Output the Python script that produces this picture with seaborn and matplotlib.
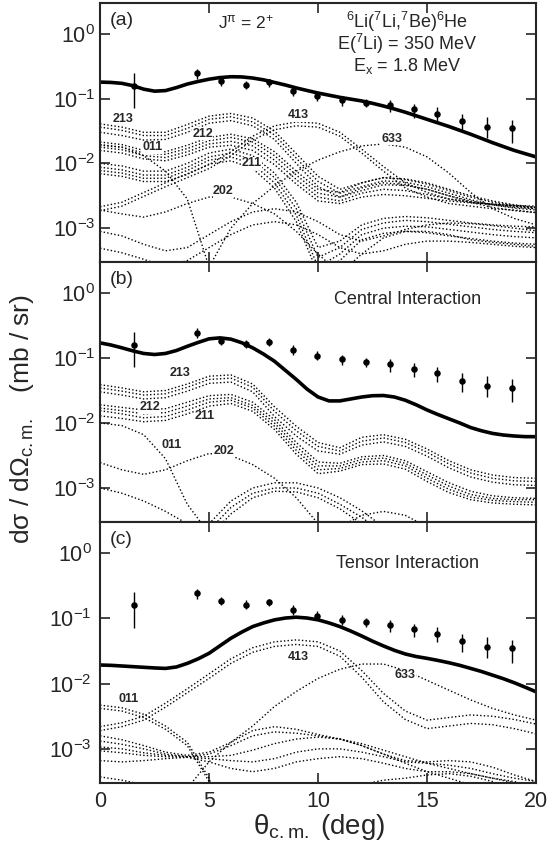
import numpy as np
import pandas as pd
import matplotlib
matplotlib.use("Agg")
import matplotlib.pyplot as plt
import seaborn as sns

# ---------------- data ----------------
DEG = list(range(21))                       # grid for partial components (deg)
DEG_FINE = [i * 0.5 for i in range(41)]     # grid for total curves (deg)

# measured cross sections (mb/sr) with error-bar limits
DATA_X = [1.56, 4.43, 5.55, 6.68, 7.76, 8.87, 9.97, 11.08, 12.19, 13.3, 14.39, 15.47, 16.59, 17.75, 18.88]
DATA_Y = [0.158, 0.245, 0.185, 0.162, 0.178, 0.133, 0.108, 0.095, 0.087, 0.080, 0.068, 0.058, 0.045, 0.037, 0.035]
DATA_LO = [0.072, 0.201, 0.158, 0.141, 0.153, 0.111, 0.093, 0.078, 0.074, 0.062, 0.051, 0.043, 0.030, 0.025, 0.021]
DATA_HI = [0.25, 0.286, 0.209, 0.190, 0.201, 0.158, 0.130, 0.111, 0.100, 0.095, 0.083, 0.074, 0.058, 0.052, 0.047]

# total calculated curves, log10 of dsigma/dOmega (mb/sr) on DEG_FINE
TOTAL_A = [-0.745, -0.750, -0.764, -0.800, -0.854, -0.885, -0.876, -0.830, -0.775, -0.735,
           -0.700, -0.675, -0.662, -0.665, -0.682, -0.710, -0.750, -0.790, -0.835, -0.875,
           -0.914, -0.947, -0.980, -1.008, -1.036, -1.073, -1.114, -1.160, -1.210, -1.265,
           -1.320, -1.375, -1.430, -1.490, -1.550, -1.615, -1.680, -1.740, -1.800, -1.850, -1.900]
TOTAL_B = [-0.767, -0.800, -0.843, -0.890, -0.930, -0.946, -0.930, -0.885, -0.820, -0.760,
           -0.705, -0.690, -0.710, -0.765, -0.843, -0.940, -1.050, -1.190, -1.330, -1.480,
           -1.600, -1.660, -1.660, -1.630, -1.600, -1.580, -1.577, -1.600, -1.650, -1.720,
           -1.800, -1.870, -1.935, -2.000, -2.070, -2.120, -2.160, -2.185, -2.200, -2.210, -2.210]
TOTAL_C = [-1.715, -1.720, -1.730, -1.740, -1.750, -1.760, -1.767, -1.745, -1.690, -1.620,
           -1.535, -1.420, -1.305, -1.210, -1.126, -1.070, -1.023, -0.995, -0.982, -0.995,
           -1.023, -1.070, -1.126, -1.195, -1.270, -1.350, -1.423, -1.490, -1.546, -1.585,
           -1.613, -1.645, -1.680, -1.720, -1.767, -1.815, -1.870, -1.925, -1.987, -2.055, -2.126]

# partial (dotted) components, log10 of dsigma/dOmega (mb/sr) on DEG
# panel (a)
A_213_1 = [-1.39, -1.44, -1.52, -1.52, -1.40, -1.27, -1.23, -1.30, -1.50, -1.85, -2.20, -2.40, -2.30, -2.22, -2.24, -2.30, -2.40, -2.50, -2.58, -2.64, -2.68]
A_213_2 = [-1.44, -1.49, -1.57, -1.57, -1.46, -1.32, -1.28, -1.36, -1.56, -1.92, -2.28, -2.46, -2.36, -2.27, -2.29, -2.36, -2.46, -2.56, -2.64, -2.69, -2.72]
A_213_3 = [-1.52, -1.57, -1.64, -1.63, -1.52, -1.38, -1.34, -1.42, -1.63, -2.00, -2.36, -2.52, -2.42, -2.33, -2.34, -2.40, -2.50, -2.60, -2.68, -2.73, -2.76]
A_212_1 = [-1.67, -1.71, -1.80, -1.82, -1.72, -1.60, -1.55, -1.62, -1.82, -2.12, -2.40, -2.45, -2.30, -2.22, -2.25, -2.32, -2.42, -2.52, -2.60, -2.65, -2.68]
A_212_2 = [-1.71, -1.75, -1.84, -1.86, -1.77, -1.65, -1.60, -1.67, -1.88, -2.18, -2.46, -2.52, -2.38, -2.30, -2.33, -2.40, -2.50, -2.58, -2.64, -2.68, -2.70]
A_212_3 = [-1.75, -1.79, -1.88, -1.91, -1.82, -1.70, -1.66, -1.73, -1.95, -2.25, -2.52, -2.58, -2.46, -2.40, -2.42, -2.48, -2.55, -2.60, -2.63, -2.66, -2.68]
A_212_4 = [-1.80, -1.84, -1.93, -1.96, -1.87, -1.75, -1.72, -1.80, -2.02, -2.32, -2.58, -2.62, -2.52, -2.48, -2.50, -2.54, -2.58, -2.61, -2.63, -2.65, -2.66]
A_211_1 = [-2.00, -2.04, -2.12, -2.12, -2.00, -1.84, -1.78, -1.88, -2.15, -2.60, -3.30, -3.20, -2.95, -2.85, -2.82, -2.84, -2.88, -2.92, -2.95, -2.97, -2.98]
A_211_2 = [-2.06, -2.10, -2.18, -2.18, -2.06, -1.90, -1.84, -1.95, -2.22, -2.70, -3.45, -3.30, -3.02, -2.92, -2.88, -2.90, -2.94, -2.98, -3.02, -3.05, -3.07]
A_211_3 = [-2.11, -2.15, -2.23, -2.23, -2.11, -1.95, -1.90, -2.01, -2.30, -2.80, -3.60, -3.40, -3.10, -3.00, -2.97, -2.98, -3.02, -3.06, -3.10, -3.13, -3.15]
A_211_4 = [-2.16, -2.20, -2.28, -2.28, -2.17, -2.01, -1.96, -2.08, -2.38, -2.90, -3.70, -3.50, -3.18, -3.08, -3.05, -3.07, -3.12, -3.16, -3.20, -3.23, -3.25]
A_413_1 = [-2.67, -2.60, -2.45, -2.30, -2.16, -2.02, -1.82, -1.58, -1.42, -1.36, -1.38, -1.52, -1.78, -2.05, -2.30, -2.45, -2.55, -2.60, -2.63, -2.66, -2.70]
A_413_2 = [-2.73, -2.66, -2.51, -2.36, -2.22, -2.08, -1.88, -1.64, -1.48, -1.42, -1.44, -1.58, -1.84, -2.12, -2.38, -2.52, -2.62, -2.66, -2.70, -2.72, -2.76]
A_633 = [-4.5, -4.5, -4.5, -4.5, -4.2, -3.60, -3.00, -2.62, -2.35, -2.12, -1.95, -1.82, -1.73, -1.70, -1.75, -1.90, -2.15, -2.45, -2.70, -2.85, -2.95]
A_011 = [-1.72, -1.75, -1.88, -2.12, -2.55, -3.60, -4.5, -4.5, -4.5, -4.5, -4.5, -4.5, -4.5, -4.5, -4.5, -4.5, -4.5, -4.5, -4.5, -4.5, -4.5]
A_202 = [-2.72, -2.78, -2.83, -2.75, -2.62, -2.52, -2.52, -2.62, -2.78, -3.05, -3.40, -3.70, -3.40, -3.15, -3.05, -3.05, -3.10, -3.18, -3.22, -3.25, -3.28]
A_LOW_1 = [-3.05, -3.12, -3.25, -3.35, -3.30, -3.10, -2.90, -2.75, -2.70, -2.75, -2.90, -3.10, -3.20, -3.12, -3.02, -2.95, -2.92, -2.93, -2.96, -3.00, -3.04]
A_LOW_2 = [-3.31, -3.38, -3.48, -3.60, -3.50, -3.30, -3.10, -2.95, -2.90, -2.95, -3.10, -3.30, -3.40, -3.35, -3.25, -3.20, -3.20, -3.22, -3.25, -3.28, -3.30]

# panel (b)
B_213_1 = [-1.41, -1.46, -1.52, -1.50, -1.40, -1.28, -1.26, -1.40, -1.75, -2.05, -2.30, -2.38, -2.22, -2.18, -2.25, -2.40, -2.58, -2.72, -2.80, -2.84, -2.85]
B_213_2 = [-1.46, -1.51, -1.57, -1.55, -1.45, -1.33, -1.31, -1.45, -1.82, -2.12, -2.36, -2.43, -2.28, -2.23, -2.30, -2.45, -2.63, -2.77, -2.85, -2.89, -2.90]
B_213_3 = [-1.52, -1.57, -1.63, -1.61, -1.51, -1.39, -1.37, -1.52, -1.90, -2.20, -2.43, -2.48, -2.34, -2.29, -2.36, -2.51, -2.69, -2.83, -2.91, -2.95, -2.96]
B_212_1 = [-1.72, -1.76, -1.80, -1.78, -1.68, -1.58, -1.56, -1.68, -1.95, -2.30, -2.60, -2.62, -2.52, -2.50, -2.58, -2.75, -2.92, -3.05, -3.12, -3.15, -3.16]
B_212_2 = [-1.77, -1.81, -1.86, -1.84, -1.74, -1.63, -1.61, -1.73, -2.00, -2.36, -2.66, -2.66, -2.56, -2.54, -2.62, -2.80, -2.97, -3.10, -3.16, -3.18, -3.18]
B_211_1 = [-1.81, -1.86, -1.92, -1.90, -1.80, -1.68, -1.65, -1.77, -2.05, -2.42, -2.72, -2.70, -2.60, -2.58, -2.66, -2.85, -3.02, -3.14, -3.19, -3.21, -3.22]
B_211_2 = [-1.89, -1.93, -1.98, -1.96, -1.86, -1.74, -1.70, -1.82, -2.10, -2.48, -2.78, -2.74, -2.64, -2.63, -2.71, -2.90, -3.07, -3.18, -3.23, -3.25, -3.26]
B_011 = [-2.00, -2.04, -2.18, -2.55, -3.25, -3.70, -4.5, -4.5, -4.5, -4.5, -4.5, -4.5, -4.5, -4.5, -4.5, -4.5, -4.5, -4.5, -4.5, -4.5, -4.5]
B_202 = [-2.61, -2.72, -2.79, -2.72, -2.58, -2.47, -2.50, -2.64, -2.85, -3.15, -3.55, -3.60, -3.42, -3.36, -3.42, -3.60, -4.0, -4.5, -4.5, -4.5, -4.5]
B_RISE_1 = [-4.5, -4.5, -4.5, -4.5, -4.0, -3.55, -3.20, -3.00, -2.92, -2.92, -3.00, -3.15, -3.35, -3.60, -4.0, -4.5, -4.5, -4.5, -4.5, -4.5, -4.5]
B_RISE_2 = [-4.5, -4.5, -4.5, -4.5, -4.1, -3.65, -3.30, -3.08, -3.00, -3.00, -3.08, -3.25, -3.45, -3.70, -4.1, -4.5, -4.5, -4.5, -4.5, -4.5, -4.5]
B_RISE_3 = [-4.5, -4.5, -4.5, -4.5, -4.2, -3.75, -3.40, -3.15, -3.05, -3.06, -3.15, -3.32, -3.55, -3.80, -4.2, -4.5, -4.5, -4.5, -4.5, -4.5, -4.5]
B_LOW = [-3.00, -3.08, -3.20, -3.36, -3.55, -3.90, -4.5, -4.5, -4.5, -4.5, -4.5, -4.5, -4.5, -4.5, -4.5, -4.5, -4.5, -4.5, -4.5, -4.5, -4.5]

# panel (c)
C_413_1 = [-2.66, -2.60, -2.50, -2.30, -2.08, -1.85, -1.62, -1.45, -1.36, -1.33, -1.36, -1.50, -1.80, -2.15, -2.42, -2.56, -2.52, -2.48, -2.50, -2.55, -2.62]
C_413_2 = [-2.72, -2.66, -2.56, -2.36, -2.14, -1.92, -1.69, -1.52, -1.43, -1.40, -1.43, -1.58, -1.90, -2.28, -2.55, -2.69, -2.65, -2.61, -2.63, -2.69, -2.77]
C_011_1 = [-2.33, -2.37, -2.47, -2.65, -2.90, -3.45, -4.5, -4.5, -4.5, -4.5, -4.5, -4.5, -4.5, -4.5, -4.5, -4.5, -4.5, -4.5, -4.5, -4.5, -4.5]
C_011_2 = [-2.38, -2.42, -2.52, -2.70, -2.95, -3.50, -4.5, -4.5, -4.5, -4.5, -4.5, -4.5, -4.5, -4.5, -4.5, -4.5, -4.5, -4.5, -4.5, -4.5, -4.5]
C_633 = [-4.5, -4.5, -4.5, -4.5, -3.60, -3.20, -2.90, -2.65, -2.35, -2.12, -1.92, -1.78, -1.70, -1.70, -1.80, -1.95, -2.10, -2.25, -2.38, -2.48, -2.56]
C_MID_1 = [-2.80, -2.86, -2.95, -3.05, -3.10, -3.05, -2.90, -2.72, -2.66, -2.70, -2.78, -2.85, -2.95, -3.08, -3.22, -3.35, -3.45, -3.55, -3.8, -4.2, -4.5]
C_MID_2 = [-2.88, -2.93, -3.00, -3.08, -3.12, -3.08, -2.95, -2.80, -2.74, -2.76, -2.80, -2.85, -2.92, -3.02, -3.12, -3.22, -3.30, -3.38, -3.45, -3.50, -3.60]
C_MID_3 = [-2.97, -3.00, -3.06, -3.10, -3.12, -3.12, -3.10, -3.02, -2.92, -2.85, -2.82, -2.85, -2.95, -3.08, -3.18, -3.20, -3.18, -3.20, -3.28, -3.40, -3.50]
C_MID_4 = [-3.03, -3.06, -3.10, -3.12, -3.13, -3.15, -3.18, -3.20, -3.15, -3.05, -3.00, -3.00, -3.05, -3.12, -3.20, -3.22, -3.25, -3.30, -3.38, -3.45, -3.50]
C_MID_5 = [-3.18, -3.20, -3.18, -3.15, -3.13, -3.20, -3.30, -3.35, -3.30, -3.20, -3.15, -3.12, -3.15, -3.22, -3.30, -3.35, -3.35, -3.38, -3.45, -3.52, -3.60]
C_LOW = [-3.43, -3.48, -3.55, -3.70, -4.0, -4.5, -4.5, -4.5, -4.5, -4.5, -4.0, -3.70, -3.55, -3.48, -3.45, -3.40, -3.38, -3.42, -3.50, -3.65, -3.90]

PARTIALS_A = [A_213_1, A_213_2, A_213_3, A_212_1, A_212_2, A_212_3, A_212_4,
              A_211_1, A_211_2, A_211_3, A_211_4, A_413_1, A_413_2, A_633,
              A_011, A_202, A_LOW_1, A_LOW_2]
PARTIALS_B = [B_213_1, B_213_2, B_213_3, B_212_1, B_212_2, B_211_1, B_211_2,
              B_011, B_202, B_RISE_1, B_RISE_2, B_RISE_3, B_LOW]
PARTIALS_C = [C_413_1, C_413_2, C_011_1, C_011_2, C_633, C_MID_1, C_MID_2,
              C_MID_3, C_MID_4, C_MID_5, C_LOW]

CURVE_LABELS_A = ["213", "212", "011", "211", "202", "413", "633"]
CURVE_LABELS_B = ["213", "212", "211", "011", "202"]
CURVE_LABELS_C = ["011", "413", "633"]

YTICKS = [1e-3, 1e-2, 1e-1, 1e0]
XTICKS = [0, 5, 10, 15, 20]

# ---------------- plotting ----------------
sns.set_style("ticks")
plt.rcParams["font.family"] = ["Liberation Sans", "DejaVu Sans"]
plt.rcParams["mathtext.fontset"] = "custom"
plt.rcParams["mathtext.rm"] = "Liberation Sans"
plt.rcParams["mathtext.it"] = "Liberation Sans:italic"
plt.rcParams["mathtext.default"] = "regular"

fig = plt.figure(figsize=(5.5, 8.46), dpi=100)
positions = [[0.182, 0.6903, 0.7927, 0.3062],
             [0.182, 0.3830, 0.7927, 0.3073],
             [0.182, 0.0745, 0.7927, 0.3085]]
axes = [fig.add_axes(p) for p in positions]

totals = [TOTAL_A, TOTAL_B, TOTAL_C]
partials = [PARTIALS_A, PARTIALS_B, PARTIALS_C]

label_specs = [
    list(zip(CURVE_LABELS_A, [1.06, 4.7, 2.4, 6.95, 5.65, 9.1, 13.4],
             [-1.31, -1.54, -1.75, -2.0, -2.43, -1.26, -1.62])),
    list(zip(CURVE_LABELS_B, [3.67, 2.3, 4.8, 3.3, 5.7],
             [-1.23, -1.76, -1.895, -2.34, -2.43])),
    list(zip(CURVE_LABELS_C, [1.3, 9.1, 14.0], [-2.23, -1.59, -1.87])),
]

for i, ax in enumerate(axes):
    for curve in partials[i]:
        df = pd.DataFrame({"deg": DEG, "val": np.power(10.0, curve)})
        sns.lineplot(data=df, x="deg", y="val", ax=ax, color="black",
                     linewidth=1.0, linestyle=(0, (1, 1.6)), estimator=None,
                     sort=False)
    dft = pd.DataFrame({"deg": DEG_FINE, "val": np.power(10.0, totals[i])})
    sns.lineplot(data=dft, x="deg", y="val", ax=ax, color="black",
                 linewidth=2.6, estimator=None, sort=False)
    # data points
    y = np.array(DATA_Y)
    yerr = [y - np.array(DATA_LO), np.array(DATA_HI) - y]
    ax.errorbar(DATA_X, DATA_Y, yerr=yerr, fmt="none", ecolor="black",
                elinewidth=1.0, capsize=0)
    sns.scatterplot(x=DATA_X, y=DATA_Y, ax=ax, color="black", s=22,
                    edgecolor="black", linewidth=0, zorder=5)

    ax.set_yscale("log")
    ax.set_xlim(0, 20)
    ax.set_ylim(3.0e-4, 3.0)
    ax.set_xticks(XTICKS)
    ax.set_yticks(YTICKS)
    ax.minorticks_off()
    ax.tick_params(direction="in", length=7, width=1.2, top=True, right=True,
                   labelsize=15.5)
    for s in ax.spines.values():
        s.set_linewidth(1.5)
    ax.set_xlabel("")
    ax.set_ylabel("")
    if i < 2:
        ax.tick_params(labelbottom=False)
    else:
        ax.tick_params(labelsize=15.5, pad=6)

    for txt, lx, ly in label_specs[i]:
        ax.text(lx, 10 ** ly, txt, fontsize=9, fontweight="semibold",
                ha="center", va="center",
                bbox=dict(facecolor="white", edgecolor="none", pad=0.3))

# panel letters and annotations
for ax, letter in zip(axes, ["(a)", "(b)", "(c)"]):
    ax.text(0.022, 0.965, letter, transform=ax.transAxes, fontsize=14,
            va="top", ha="left")

axes[0].text(0.335, 0.925, r"J$^{\pi}$ = 2$^{+}$", transform=axes[0].transAxes,
             fontsize=12.5, ha="center", va="center")
axes[0].text(0.705, 0.925, r"$^{6}$Li($^{7}$Li,$^{7}$Be)$^{6}$He",
             transform=axes[0].transAxes, fontsize=13, ha="center", va="center")
axes[0].text(0.705, 0.84, r"E($^{7}$Li) = 350 MeV",
             transform=axes[0].transAxes, fontsize=13, ha="center", va="center")
axes[0].text(0.705, 0.755, r"E$_{\rm x}$ = 1.8 MeV",
             transform=axes[0].transAxes, fontsize=13, ha="center", va="center")
axes[1].text(0.705, 0.855, "Central Interaction", transform=axes[1].transAxes,
             fontsize=13, ha="center", va="center")
axes[2].text(0.705, 0.84, "Tensor Interaction", transform=axes[2].transAxes,
             fontsize=13, ha="center", va="center")

fig.text(0.04, 0.505, r"d$\sigma$ / d$\Omega_{\rm c.m.}$   (mb / sr)",
         rotation=90, fontsize=19, ha="center", va="center")
fig.text(0.58, 0.022, r"$\theta_{\rm c.m.}$ (deg)", fontsize=20,
         ha="center", va="center")

fig.savefig("out.png", dpi=100)
